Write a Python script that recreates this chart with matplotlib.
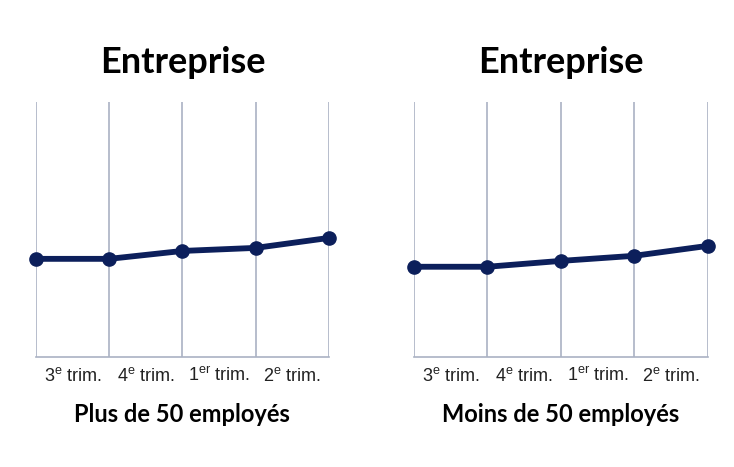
import matplotlib.pyplot as plt

# ------------------------------------------------------------------
# data
# ------------------------------------------------------------------
quarters = [r"3$^{\mathrm{e}}$ trim.", r"4$^{\mathrm{e}}$ trim.",
            r"1$^{\mathrm{er}}$ trim.", r"2$^{\mathrm{e}}$ trim."]
plus_50 = [38.5, 38.5, 41.6, 42.8, 46.7]
moins_50 = [35.4, 35.4, 37.7, 39.7, 43.6]
titles = ["Entreprise", "Entreprise"]
subtitles = ["Plus de 50 employés", "Moins de 50 employés"]

plt.rcParams["mathtext.fontset"] = "custom"
plt.rcParams["mathtext.rm"] = "Liberation Sans"

NAVY = "#0c1f5b"
GRID = "#aab2c3"

fig = plt.figure(figsize=(7.34, 4.67), dpi=100)
panels = [
    (fig.add_axes([0.049, 0.2355, 0.399, 0.546]), plus_50),
    (fig.add_axes([0.564, 0.2355, 0.4005, 0.546]), moins_50),
]

for i, (ax, vals) in enumerate(panels):
    xs = range(len(vals))
    ax.plot(xs, vals, color=NAVY, lw=4.2, marker="o", ms=9.5,
            solid_capstyle="round", clip_on=False, zorder=3)
    ax.set_xlim(0, len(vals) - 1)
    ax.set_ylim(0, 100)
    for s in ["top", "right", "left"]:
        ax.spines[s].set_visible(False)
    ax.spines["bottom"].set_color(GRID)
    ax.spines["bottom"].set_linewidth(1.2)
    ax.set_xticks(list(xs))
    ax.set_xticklabels([])
    ax.set_xticks([x + 0.5 for x in range(len(quarters))], minor=True)
    ax.set_xticklabels(quarters, minor=True, fontsize=13,
                       family="Liberation Sans", color="#222222")
    ax.tick_params(axis="x", which="both", length=0, pad=7)
    ax.set_yticks([])
    ax.grid(axis="x", which="major", color=GRID, lw=1.2)
    ax.set_title(titles[i], fontsize=26, fontweight="bold",
                 family="Lato", pad=21)
    ax.text(0.5, -0.225, subtitles[i], transform=ax.transAxes,
            ha="center", va="center", fontsize=17, fontweight="bold",
            family="Lato")

fig.savefig("out.png", dpi=100)
